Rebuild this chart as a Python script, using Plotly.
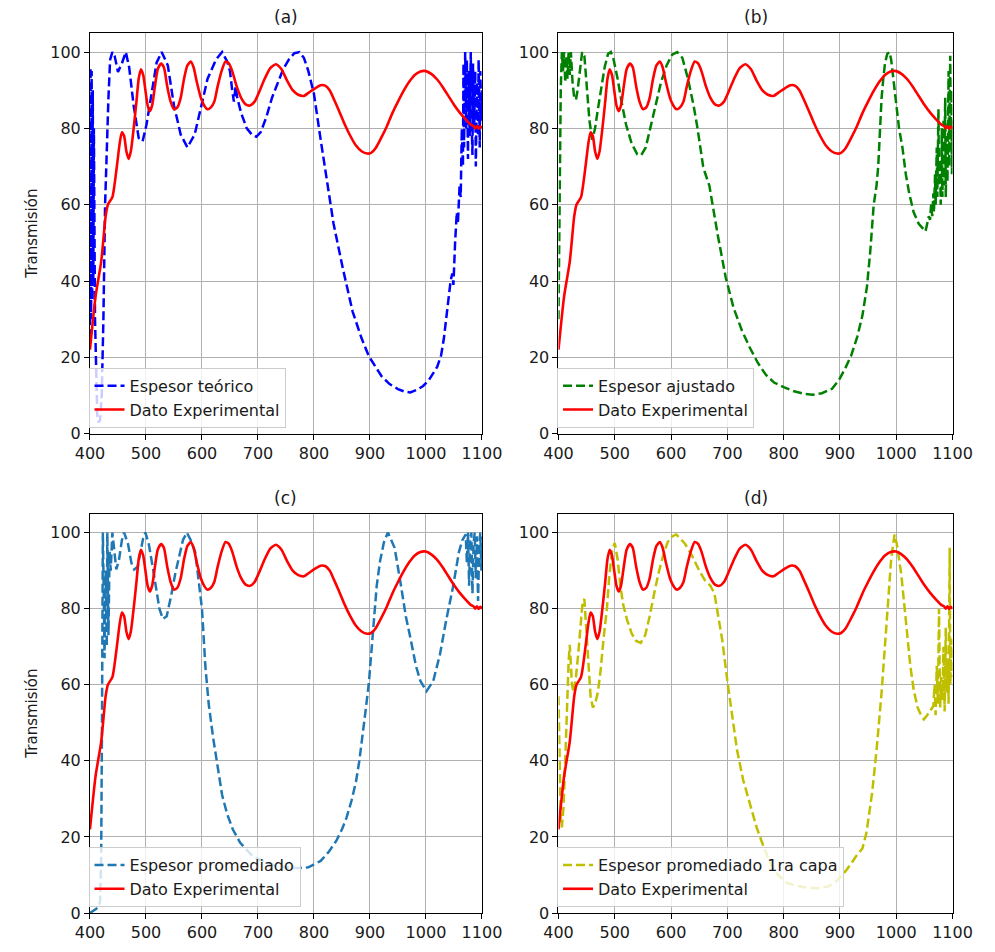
import plotly.graph_objects as go

# ---------------- data ----------------
# experimental transmission spectrum (same in all four panels)
wl_exp = [400, 410, 420, 428, 432, 440, 448, 453, 457, 461, 465, 469, 473, 478, 483, 487,
          491, 495, 499, 503, 507, 511, 516, 521, 527, 532, 538, 544, 550, 556, 562, 568,
          574, 580, 585, 591, 598, 604, 610, 616, 622, 628, 635, 642, 648, 654, 662, 670,
          678, 686, 694, 702, 712, 722, 732, 742, 752, 762, 772, 782, 792, 802, 812, 820,
          828, 836, 845, 855, 865, 875, 885, 895, 902, 910, 920, 930, 940, 950, 960, 970,
          980, 990, 1000, 1010, 1020, 1030, 1040, 1050, 1060, 1070, 1080, 1085, 1088, 1091,
          1094, 1097, 1100]
t_exp = [22, 36, 45, 57, 60, 62, 70, 76, 79, 78, 74, 72, 74, 80, 87, 93,
         95.5, 94, 90, 86, 84.5, 86, 91, 95.5, 97, 96, 91, 87, 85, 85.5, 88, 93,
         96.5, 97.5, 96, 92, 88, 86, 85, 85.5, 87, 91, 95, 97.5, 97, 95, 91, 88,
         86.3, 86, 87, 89.5, 93, 95.8, 96.8, 95.5, 92.5, 90, 88.8, 88.5, 89.5, 90.5, 91.3, 91.2,
         90, 87.5, 84.5, 81, 78, 75.5, 74, 73.4, 73.6, 74.8, 77.5, 80.5, 84, 87, 89.8, 92.2,
         94, 94.9, 95, 94.2, 92.8, 90.8, 88.5, 86.2, 84.2, 82.5, 81, 80.6, 80.0, 80.6,
         79.9, 80.5, 80.0]

# (a) theoretical thickness
wl_a = [400, 401, 402, 403, 404, 405, 406, 407, 409, 411, 413, 415, 418, 421, 424, 427,
        430, 433, 436, 440, 444, 450, 457, 464, 470, 478, 487, 494, 501, 510, 519, 528,
        539, 550, 562, 574, 587, 599, 610, 625, 636, 645, 650, 654, 657, 660, 663, 670,
        680, 690, 697, 705, 715, 725, 735, 745, 755, 765, 774, 782, 790, 800, 812, 823,
        835, 852, 869, 885, 898, 910, 921, 935, 950, 962, 972, 984, 995, 1005, 1013, 1020,
        1027, 1032, 1036, 1040, 1044, 1047, 1049, 1052, 1055, 1057, 1060, 1062, 1064, 1066,
        1067, 1068, 1070, 1072, 1073, 1075, 1076, 1078, 1080, 1081, 1083, 1084, 1086, 1088,
        1089, 1091, 1093, 1094, 1096, 1097, 1099, 1100]
t_a = [25, 96, 30, 95, 35, 90, 40, 80, 30, 15, 5, 3, 3.5, 10, 30, 60,
       78, 88, 98, 100, 99, 94.8, 97, 100, 96, 86, 77.5, 76.6, 81, 89.5, 97.2, 100,
       96.5, 86, 78.4, 75, 78.4, 86, 93, 98, 100, 97.5, 95, 90, 87, 91, 88, 84,
       80, 78.2, 77.8, 79, 83, 88, 92, 95.5, 98, 99.7, 100, 98.5, 95, 89, 77, 66,
       55, 43, 32, 25, 20.3, 17.5, 15, 13, 11.7, 11, 10.8, 11.5, 12.5, 14, 16, 17.5,
       20.5, 25, 30, 35, 40, 42, 39, 50, 58, 55, 65, 62, 80, 70,
       97, 75, 100, 80, 98, 72, 95, 78, 100, 85, 73, 97, 80, 95,
       70, 92, 78, 98, 75, 95, 82, 90]

# (b) fitted thickness
wl_b = [400, 402, 404, 406, 408, 410, 412, 414, 416, 418, 420, 422, 425, 428, 431, 434,
        438, 442, 446, 450, 455, 460, 465, 470, 476, 482, 488, 493, 498, 505, 512, 520,
        530, 540, 547, 555, 563, 572, 582, 592, 602, 611, 620, 630, 640, 647, 651, 654,
        657, 660, 664, 668, 683, 697, 711, 726, 740, 754, 768, 783, 800, 817, 835, 851,
        868, 886, 898, 909, 920, 931, 940, 948, 954, 960, 965, 968, 971, 974, 977, 980,
        984, 988, 991, 995, 1000, 1005, 1011, 1017, 1023, 1031, 1040, 1048, 1052, 1055,
        1058, 1060, 1062, 1064, 1066, 1067, 1069, 1070, 1072, 1073, 1075, 1076, 1078, 1079,
        1081, 1082, 1084, 1085, 1087, 1088, 1090, 1091, 1093, 1094, 1096, 1097, 1098, 1099,
        1100]
t_b = [30, 60, 90, 100, 95, 100, 92, 99, 93, 100, 94, 100, 92, 88, 87.5, 90,
       96, 100, 99, 92, 82, 77, 80, 85, 90, 96, 99.5, 100, 98, 93, 87, 81,
       76, 73.2, 73, 75, 80, 86, 92, 96.5, 99.3, 100, 98.5, 93, 86, 80, 76, 72,
       70, 68.5, 67, 65, 52, 41, 33, 27, 22.5, 18.6, 15.5, 13.4, 12.2, 11.2, 10.5, 10.2,
       10.6, 11.8, 14, 17, 20.5, 25.5, 31, 38.5, 48, 60, 65, 70, 79, 88, 93, 97,
       99.5, 100, 98, 93, 86, 80, 75, 68, 63, 58, 55, 53.5, 53, 55,
       57, 56, 60, 57, 63, 58, 68, 60, 75, 62, 85, 65, 70, 60,
       80, 62, 82, 65, 88, 62, 78, 66, 95, 70, 99, 75, 90, 68,
       82]

# (c) averaged thickness
wl_c = [400, 405, 410, 415, 418, 420, 421.5, 423, 425, 426, 428, 430, 431, 433, 435, 437,
        440, 443, 447, 452, 457, 461, 468, 474, 479, 485, 490, 495, 499, 505, 512, 518,
        524, 530, 537, 545, 552, 559, 566, 573, 580, 588, 594, 600, 606, 612, 620, 628,
        636, 645, 655, 668, 690, 710, 730, 750, 770, 790, 812, 826, 840, 850, 858, 867,
        875, 881, 886, 892, 898, 902, 906, 912, 918, 925, 932, 944, 955, 964, 973, 982,
        990, 1001, 1013, 1025, 1036, 1048, 1059, 1065, 1071, 1073, 1075, 1077, 1079, 1081,
        1083, 1085, 1087, 1089, 1091, 1093, 1095, 1097, 1099, 1100]
t_c = [0, 0.5, 1, 1.5, 3, 15, 50, 100, 80, 67, 90, 70, 100, 73, 95, 90,
       100, 96, 90.3, 93, 98, 100, 97, 92, 90.3, 91, 95, 98.5, 100, 97, 91, 85,
       80, 77.3, 78, 83.4, 89, 93.5, 98, 100, 98, 94.8, 88, 80, 65, 55, 46, 38,
       31, 26, 22, 18.5, 15, 13.5, 12.5, 12, 11.8, 12, 13.7, 16, 19, 22, 25, 29.5,
       34.5, 40, 46.6, 53, 60.4, 68, 77, 86, 92.5, 97.5, 100, 96, 86.4, 78, 71.7, 65,
       61, 58.3, 61, 68, 76.9, 85.5, 95, 98, 99.5, 92, 100, 86, 98, 100,
       84, 97, 100, 88, 99, 82, 96, 100, 90, 99]

# (d) averaged thickness, first layer
wl_d = [400, 402, 404, 406, 409, 412, 415, 418, 420, 422, 424, 427, 431, 435, 439, 443,
        446, 449, 453, 457, 461, 465, 470, 475, 480, 486, 490, 495, 500, 505, 510, 515,
        522, 530, 538, 546, 554, 562, 570, 578, 586, 594, 602, 609, 616, 625, 637, 650,
        660, 670, 677, 684, 691, 700, 708, 717, 728, 740, 752, 763, 775, 790, 805, 820,
        840, 860, 880, 895, 910, 920, 929, 940, 947, 957, 965, 974, 983, 991, 997, 1001,
        1005, 1009, 1015, 1020, 1025, 1031, 1038, 1044, 1049, 1055, 1060, 1066, 1068, 1070,
        1072, 1074, 1076, 1078, 1080, 1082, 1084, 1086, 1088, 1090, 1092, 1093, 1095, 1096,
        1098, 1100]
t_d = [57, 40, 25, 22.5, 28, 40, 55, 66, 70.5, 65, 60, 58, 62, 68, 76, 82,
       82.5, 75, 65, 57, 54, 55, 58, 64, 72, 80, 88, 95, 97.3, 93, 86, 81,
       77, 73.5, 71.5, 71, 73, 78, 84, 89.5, 94, 97.5, 99, 99.5, 98.5, 97, 94, 90,
       87.5, 86, 84, 78, 71.7, 61, 52, 43, 35, 28.4, 22.5, 18, 13.5, 10, 8, 7.2,
       6.7, 6.5, 7, 8.5, 11, 13, 15, 17, 21, 31.4, 42.7, 58, 77, 93, 99.5, 97,
       93, 89, 80, 71.7, 65, 58.7, 54, 52, 50.9, 52, 53, 54.4, 60, 52,
       65, 55, 80, 54, 62, 56, 70, 53, 75, 58, 66, 55, 96, 60,
       72, 62]

panels = [
    ("(a)", "Espesor teórico", "#0000ff", wl_a, t_a),
    ("(b)", "Espesor ajustado", "#008000", wl_b, t_b),
    ("(c)", "Espesor promediado", "#1f77b4", wl_c, t_c),
    ("(d)", "Espesor promediado 1ra capa", "#bfbf00", wl_d, t_d),
]

x_ticks = [400, 500, 600, 700, 800, 900, 1000, 1100]
y_ticks = [0, 20, 40, 60, 80, 100]

# ---------------- layout geometry (pixels) ----------------
W, H = 995, 952
col_x = [(77.7, 484.0), (563.3, 971.7)]
row_y = [(33.3, 438.3), (519.0, 922.7)]

FONT = "DejaVu Sans"
TXT = "#1a1a1a"

fig = go.Figure()
layout = dict(
    width=W, height=H,
    margin=dict(l=0, r=0, t=0, b=0),
    paper_bgcolor="white", plot_bgcolor="white",
    font=dict(family=FONT, size=16, color=TXT),
    showlegend=True,
)
annotations = []

for i, (title, name, color, wl, tr) in enumerate(panels):
    r, c = divmod(i, 2)
    k = "" if i == 0 else str(i + 1)
    x0, x1 = col_x[c]
    ytop, ybot = row_y[r]
    leg = "legend" if i == 0 else f"legend{i + 1}"

    fig.add_trace(go.Scatter(
        x=wl, y=tr, mode="lines", name=name,
        line=dict(color=color, width=2.5, dash="9px,4px"),
        xaxis="x" + k, yaxis="y" + k, legend=leg, legendgroup=f"g{i}a",
    ))
    fig.add_trace(go.Scatter(
        x=wl_exp, y=t_exp, mode="lines", name="Dato Experimental",
        line=dict(color="#ff0000", width=2.6, shape="spline", smoothing=0.6),
        xaxis="x" + k, yaxis="y" + k, legend=leg, legendgroup=f"g{i}b",
    ))

    axis_common = dict(
        showline=True, mirror=True, linecolor="black", linewidth=1,
        ticks="outside", ticklen=5, tickcolor="black", tickwidth=1,
        showgrid=True, gridcolor="#b0b0b0", gridwidth=1, zeroline=False,
        tickfont=dict(family=FONT, size=16, color=TXT),
    )
    layout["xaxis" + k] = dict(
        axis_common, domain=[x0 / W, x1 / W], range=[400, 1100],
        tickvals=x_ticks, anchor="y" + k,
    )
    layout["yaxis" + k] = dict(
        axis_common, domain=[1 - ybot / H, 1 - ytop / H], range=[0, 105],
        tickvals=y_ticks, anchor="x" + k,
    )
    layout[leg] = dict(
        x=(x0 - 1.5) / W, y=1 - (ybot - 6) / H, xanchor="left", yanchor="bottom",
        bgcolor="rgba(255,255,255,0.8)", bordercolor="#cccccc", borderwidth=1,
        font=dict(family=FONT, size=16, color=TXT),
        traceorder="grouped", tracegroupgap=0,
    )

    annotations.append(dict(
        text=title, xref="paper", yref="paper",
        x=(x0 + x1) / 2 / W, y=1 - (ytop - 16) / H,
        showarrow=False, font=dict(family=FONT, size=17, color=TXT),
        xanchor="center", yanchor="middle",
    ))
    if c == 0:
        annotations.append(dict(
            text="Transmisión", xref="paper", yref="paper",
            x=18 / W, y=1 - ((ytop + ybot) / 2) / H, textangle=-90,
            showarrow=False, font=dict(family=FONT, size=15, color=TXT),
            xanchor="center", yanchor="middle",
        ))

layout["annotations"] = annotations
fig.update_layout(**layout)
fig.write_html("out.html")
